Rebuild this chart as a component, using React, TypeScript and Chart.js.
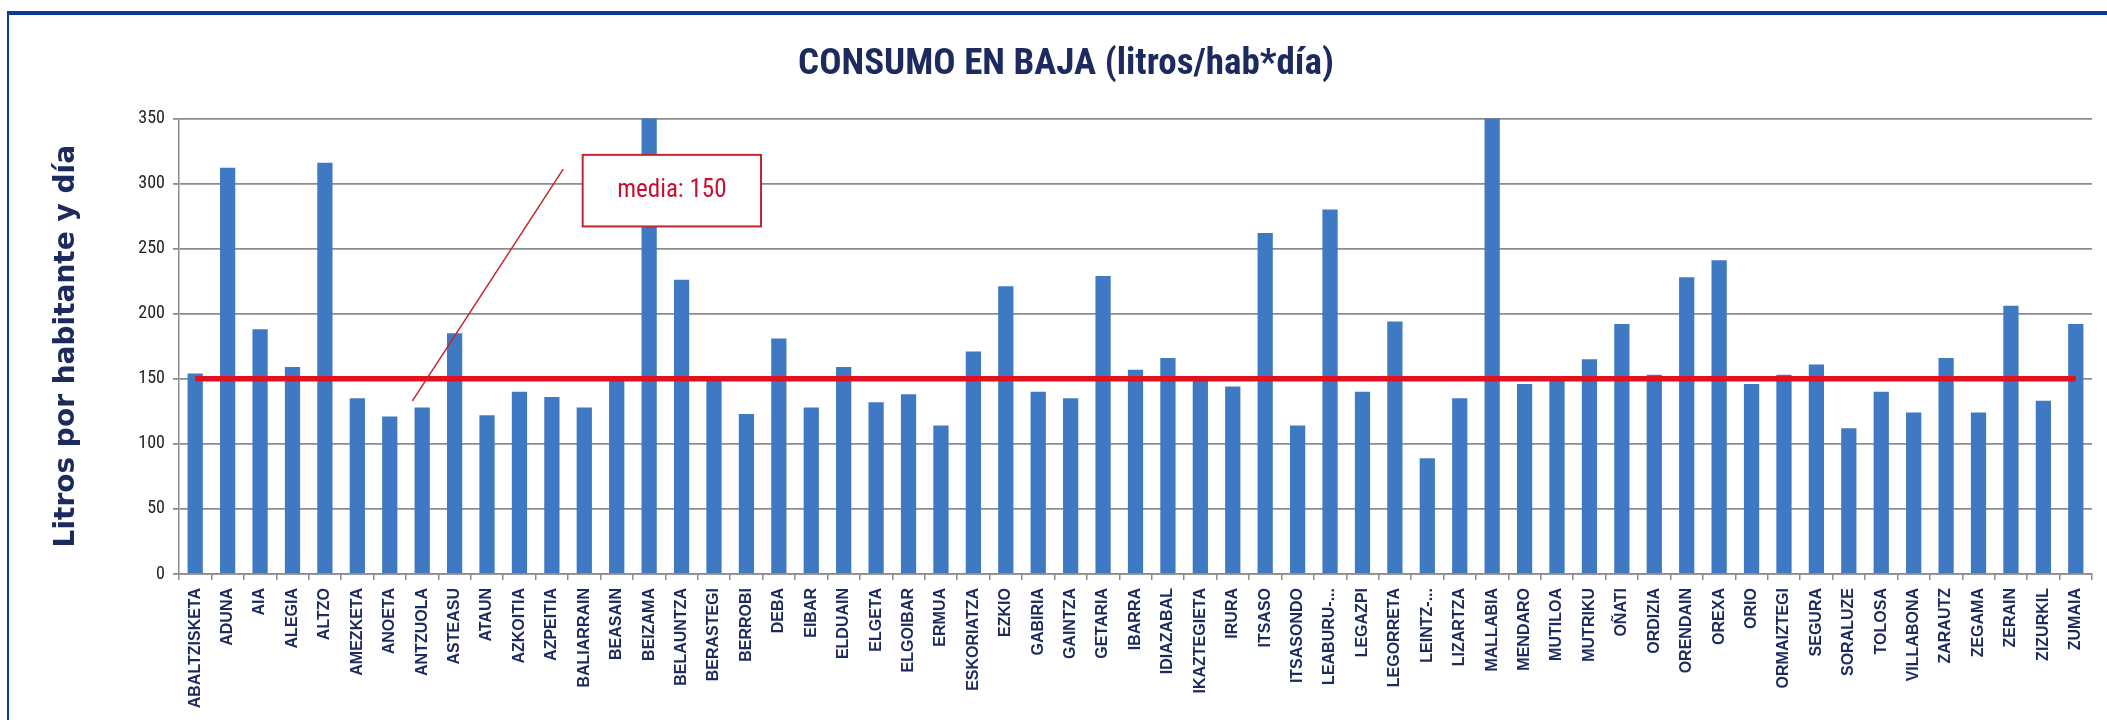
import React, { useEffect, useRef } from "react";
import { Chart, registerables } from "chart.js";

Chart.register(...registerables);

const categories = [
  "ABALTZISKETA", "ADUNA", "AIA", "ALEGIA", "ALTZO", "AMEZKETA", "ANOETA", "ANTZUOLA",
  "ASTEASU", "ATAUN", "AZKOITIA", "AZPEITIA", "BALIARRAIN", "BEASAIN", "BEIZAMA",
  "BELAUNTZA", "BERASTEGI", "BERROBI", "DEBA", "EIBAR", "ELDUAIN", "ELGETA", "ELGOIBAR",
  "ERMUA", "ESKORIATZA", "EZKIO", "GABIRIA", "GAINTZA", "GETARIA", "IBARRA", "IDIAZABAL",
  "IKAZTEGIETA", "IRURA", "ITSASO", "ITSASONDO", "LEABURU-...", "LEGAZPI", "LEGORRETA",
  "LEINTZ-...", "LIZARTZA", "MALLABIA", "MENDARO", "MUTILOA", "MUTRIKU", "OÑATI",
  "ORDIZIA", "ORENDAIN", "OREXA", "ORIO", "ORMAIZTEGI", "SEGURA", "SORALUZE", "TOLOSA",
  "VILLABONA", "ZARAUTZ", "ZEGAMA", "ZERAIN", "ZIZURKIL", "ZUMAIA",
];

const consumo = [
  154, 312, 188, 159, 316, 135, 121, 128,
  185, 122, 140, 136, 128, 150, 360,
  226, 150, 123, 181, 128, 159, 132, 138,
  114, 171, 221, 140, 135, 229, 157, 166,
  150, 144, 262, 114, 280, 140, 194,
  89, 135, 360, 146, 150, 165, 192,
  153, 228, 241, 146, 153, 161, 112, 140,
  124, 166, 124, 206, 133, 192,
];

const mediaValue = 150;
const mediaSeries = categories.map(() => mediaValue);

const yMin = 0;
const yMax = 350;
const yStep = 50;

const titleText = "CONSUMO EN BAJA (litros/hab*día)";
const yAxisTitle = "Litros por habitante y día";
const calloutText = "media: 150";
// callout placed in data units (category index, value)
const calloutBox = { xFrom: 11.95, xTo: 17.45, yTop: 322, yBottom: 267 };
const calloutLeader = { x1: 11.35, y1: 311, x2: 6.7, y2: 133 };

const NARROW = '"Liberation Sans Narrow", "Arial Narrow", "Roboto Condensed", sans-serif';
const NAVY = "#1C2A5E";

const calloutPlugin = {
  id: "calloutPlugin",
  afterDatasetsDraw(chart: any) {
    const { ctx, scales } = chart;
    const xs = scales.x;
    const ys = scales.y;
    ctx.save();
    // leader line
    ctx.strokeStyle = "#C4262E";
    ctx.lineWidth = 1.5;
    ctx.beginPath();
    ctx.moveTo(xs.getPixelForValue(calloutLeader.x1), ys.getPixelForValue(calloutLeader.y1));
    ctx.lineTo(xs.getPixelForValue(calloutLeader.x2), ys.getPixelForValue(calloutLeader.y2));
    ctx.stroke();
    // box
    const l = xs.getPixelForValue(calloutBox.xFrom);
    const r = xs.getPixelForValue(calloutBox.xTo);
    const t = ys.getPixelForValue(calloutBox.yTop);
    const b = ys.getPixelForValue(calloutBox.yBottom);
    ctx.fillStyle = "#ffffff";
    ctx.fillRect(l, t, r - l, b - t);
    ctx.strokeStyle = "#C4262E";
    ctx.lineWidth = 2;
    ctx.strokeRect(l, t, r - l, b - t);
    ctx.fillStyle = "#C8102E";
    ctx.font = `25px ${NARROW}`;
    ctx.textAlign = "center";
    ctx.textBaseline = "middle";
    ctx.fillText(calloutText, (l + r) / 2, (t + b) / 2);
    ctx.restore();
  },
};

function ConsumoChart() {
  const ref = useRef<HTMLCanvasElement | null>(null);
  useEffect(() => {
    if (!ref.current) return;
    const chart = new Chart(ref.current, {
      type: "bar",
      data: {
        labels: categories,
        datasets: [
          {
            type: "line",
            label: "media",
            data: mediaSeries,
            borderColor: "#E3101E",
            borderWidth: 5.5,
            pointRadius: 0,
            fill: false,
            order: 0,
          } as any,
          {
            type: "bar",
            label: "Consumo",
            data: consumo,
            backgroundColor: "#3F78C3",
            borderWidth: 0,
            barPercentage: 0.47,
            categoryPercentage: 1,
            order: 1,
          },
        ],
      },
      options: {
        responsive: false,
        animation: false,
        layout: { padding: { left: 40, right: 15, top: 0, bottom: 0 } },
        plugins: {
          legend: { display: false },
          tooltip: { enabled: false },
          title: {
            display: true,
            text: titleText,
            color: NAVY,
            font: { family: NARROW, size: 37, weight: "bold" },
            padding: { top: 43, bottom: 31 },
          },
        },
        scales: {
          x: {
            offset: true,
            grid: {
              display: true,
              drawOnChartArea: false,
              drawTicks: true,
              tickLength: 6,
              color: "#8c8c8c",
              lineWidth: 1.5,
              offset: true,
            },
            border: { display: true, color: "#8c8c8c", width: 1.5 },
            ticks: {
              autoSkip: false,
              maxRotation: 90,
              minRotation: 90,
              padding: 8,
              color: NAVY,
              font: { family: '"Liberation Sans", Arial, sans-serif', size: 16, weight: "bold" },
            },
            afterFit(scale: any) {
              scale.height = 146;
            },
          },
          y: {
            min: yMin,
            max: yMax,
            ticks: {
              stepSize: yStep,
              padding: 8,
              color: "#222222",
              font: { family: NARROW, size: 18 },
            },
            grid: {
              color: "#8c8c8c",
              lineWidth: 1.8,
              tickLength: 6,
            },
            border: { display: true, color: "#8c8c8c", width: 1.5 },
            title: {
              display: true,
              text: yAxisTitle,
              color: NAVY,
              font: { family: '"DejaVu Sans", Verdana, sans-serif', size: 28, weight: "bold" },
              padding: { top: 10, bottom: 0 },
            },
            afterFit(scale: any) {
              scale.width = 139;
            },
          },
        },
      },
      plugins: [calloutPlugin],
    });
    return () => chart.destroy();
  }, []);
  return <canvas ref={ref} width={2107} height={720} style={{ display: "block" }} />;
}

export default function App() {
  return (
    <div
      style={{
        position: "fixed",
        left: 0,
        top: 0,
        width: 2107,
        height: 720,
        background: "#ffffff",
        overflow: "hidden",
      }}
    >
      <ConsumoChart />
      <div style={{ position: "absolute", left: 7, top: 11, right: 0, height: 4, background: "#0B3A9C" }} />
      <div style={{ position: "absolute", left: 7, top: 11, bottom: 0, width: 2, background: "#0B3A9C" }} />
    </div>
  );
}
